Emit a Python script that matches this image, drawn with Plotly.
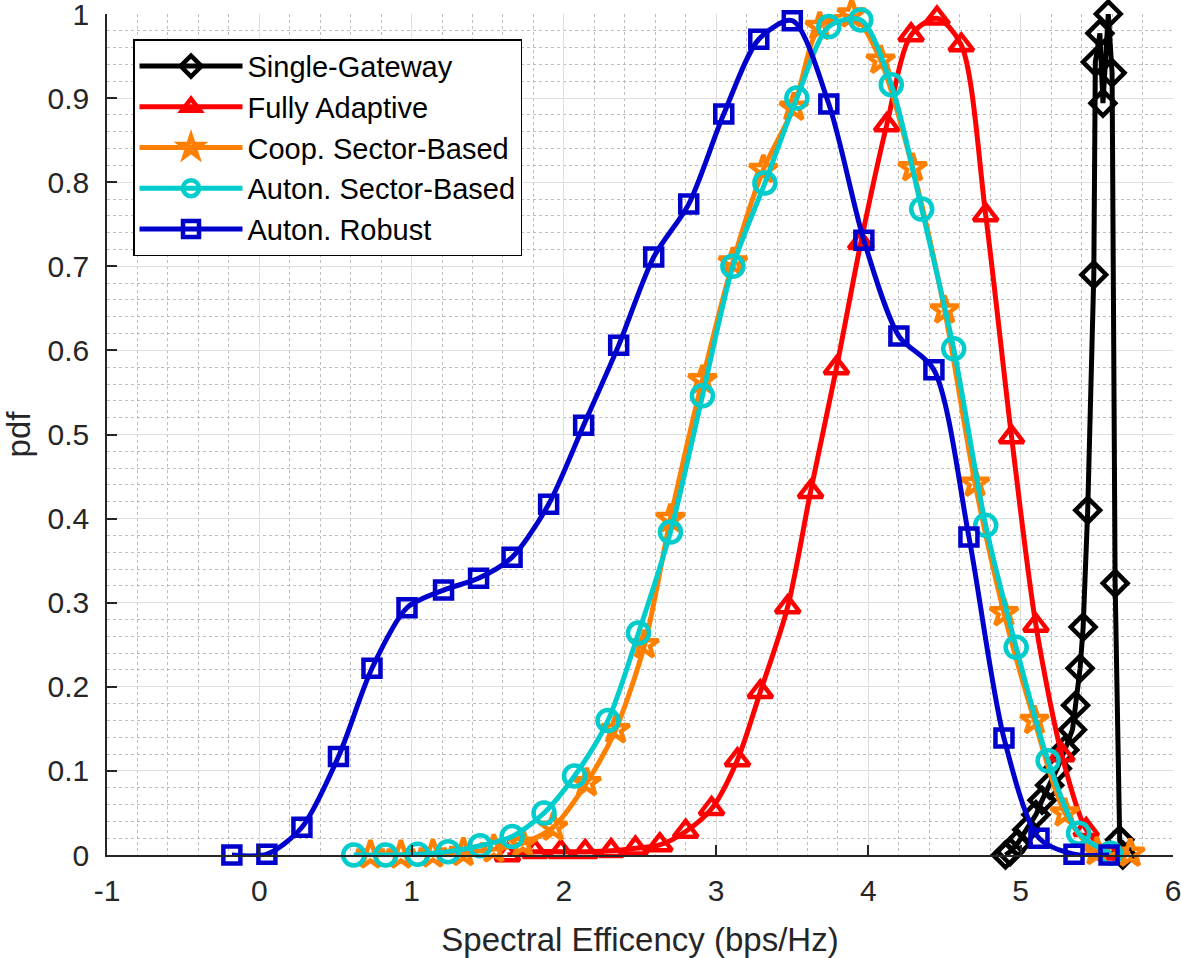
import plotly.graph_objects as go

# ---- data ----
single_x = [4.90, 4.93, 4.98, 5.04, 5.10, 5.14, 5.19, 5.24, 5.29, 5.34, 5.36, 5.39, 5.41,
            5.44, 5.48, 5.49, 5.52, 5.54, 5.575, 5.60, 5.62, 5.65, 5.67]
single_y = [0.0, 0.004, 0.014, 0.030, 0.048, 0.065, 0.083, 0.103, 0.125, 0.149, 0.178, 0.222, 0.271,
            0.410, 0.690, 0.943, 0.977, 0.894, 1.0, 0.930, 0.323, 0.018, 0.0]

adapt_x = [1.63, 1.81, 1.98, 2.14, 2.31, 2.47, 2.63, 2.80, 2.97, 3.14, 3.29, 3.47, 3.62,
           3.79, 3.95, 4.12, 4.28, 4.45, 4.61, 4.77, 4.94, 5.10, 5.27, 5.43, 5.58]
adapt_y = [0.0, 0.004, 0.004, 0.004, 0.005, 0.008, 0.012, 0.028, 0.055, 0.113, 0.194, 0.295, 0.432,
           0.579, 0.728, 0.868, 0.975, 0.995, 0.963, 0.761, 0.497, 0.273, 0.119, 0.030, 0.002]

coop_x = [0.73, 0.93, 1.14, 1.34, 1.54, 1.73, 1.93, 2.15, 2.34, 2.53, 2.70, 2.91, 3.11,
          3.31, 3.51, 3.68, 3.89, 4.08, 4.29, 4.50, 4.70, 4.89, 5.09, 5.29, 5.50, 5.72]
coop_y = [0.0, 0.0, 0.001, 0.003, 0.007, 0.014, 0.033, 0.086, 0.149, 0.250, 0.400, 0.565, 0.705,
          0.815, 0.889, 0.985, 1.0, 0.945, 0.817, 0.648, 0.442, 0.288, 0.160, 0.050, 0.004, 0.002]

auton_x = [0.62, 0.83, 1.04, 1.24, 1.45, 1.66, 1.87, 2.07, 2.29, 2.49, 2.70, 2.91, 3.11,
           3.32, 3.53, 3.74, 3.95, 4.15, 4.35, 4.56, 4.77, 4.97, 5.18, 5.38, 5.59]
auton_y = [0.0, 0.0, 0.001, 0.004, 0.011, 0.022, 0.050, 0.094, 0.160, 0.264, 0.384, 0.546, 0.700,
           0.799, 0.900, 0.985, 0.993, 0.916, 0.768, 0.602, 0.392, 0.247, 0.112, 0.026, 0.002]

robust_x = [-0.18, 0.05, 0.28, 0.52, 0.74, 0.97, 1.21, 1.44, 1.66, 1.90, 2.13, 2.36, 2.59,
            2.82, 3.05, 3.28, 3.50, 3.74, 3.97, 4.20, 4.43, 4.66, 4.89, 5.12, 5.35, 5.58]
robust_y = [0.0, 0.001, 0.033, 0.117, 0.222, 0.294, 0.315, 0.329, 0.354, 0.417, 0.511, 0.606, 0.711,
            0.774, 0.881, 0.970, 0.992, 0.893, 0.731, 0.617, 0.577, 0.378, 0.139, 0.020, 0.001, 0.0]

x_ticks = [-1, 0, 1, 2, 3, 4, 5, 6]
x_labels = ["-1", "0", "1", "2", "3", "4", "5", "6"]

series = [
    ("Single-Gateway", single_x, single_y, "#000000", "diamond-open", 19, "linear"),
    ("Fully Adaptive", adapt_x, adapt_y, "#ff0000", "triangle-up-open", 21, "spline"),
    ("Coop. Sector-Based", coop_x, coop_y, "#ff8000", "star-open", 21, "spline"),
    ("Auton. Sector-Based", auton_x, auton_y, "#00cccc", "circle-open", 21, "spline"),
    ("Auton. Robust", robust_x, robust_y, "#0000cc", "square-open", 17, "spline"),
]

fig = go.Figure()
for name, xs, ys, col, sym, size, shape in series:
    fig.add_trace(go.Scatter(
        x=xs, y=ys, name=name, mode="lines+markers", cliponaxis=False,
        line=dict(color=col, width=5, shape=shape, smoothing=0.8),
        marker=dict(symbol=sym, size=size, color=col, line=dict(color=col, width=4.5)),
    ))

font_family = "Liberation Sans, Arial, sans-serif"
axis_common = dict(
    showline=True, linecolor="#262626", linewidth=1.5, mirror=False,
    ticks="inside", ticklen=10, tickwidth=1.5, tickcolor="#262626",
    showgrid=True, gridcolor="#dedede", gridwidth=1.2, zeroline=False,
    tickfont=dict(family=font_family, size=30, color="#262626"),
    title_font=dict(family=font_family, size=33, color="#262626"),
    ticklabeloverflow="allow", automargin=False,
)

fig.update_layout(
    width=1181, height=958,
    paper_bgcolor="white", plot_bgcolor="white",
    margin=dict(l=107, r=8, t=14, b=103),
    showlegend=True,
    legend=dict(
        x=0.0244, y=0.970, xanchor="left", yanchor="top",
        bgcolor="white", bordercolor="#000000", borderwidth=1.5,
        font=dict(family=font_family, size=29, color="#000000"),
        itemwidth=103,
    ),
    xaxis=dict(
        range=[-1, 6], tickvals=x_ticks, ticktext=x_labels,
        minor=dict(dtick=0.2, showgrid=True, gridcolor="#bdbdbd", griddash="dot", gridwidth=1.2),
        title=dict(text="Spectral Efficency (bps/Hz)", standoff=24),
        ticklabelstandoff=8, **axis_common,
    ),
    yaxis=dict(
        range=[0, 1], dtick=0.1,
        minor=dict(dtick=0.02, showgrid=True, gridcolor="#bdbdbd", griddash="dot", gridwidth=1.2),
        title=dict(text="pdf", standoff=14),
        ticklabelstandoff=10, **axis_common,
    ),
)

# drop the default page margin so the figure fills the window from the corner
fig.write_html("out.html", config={"displayModeBar": False},
               post_script="document.body.style.margin='0px';")
